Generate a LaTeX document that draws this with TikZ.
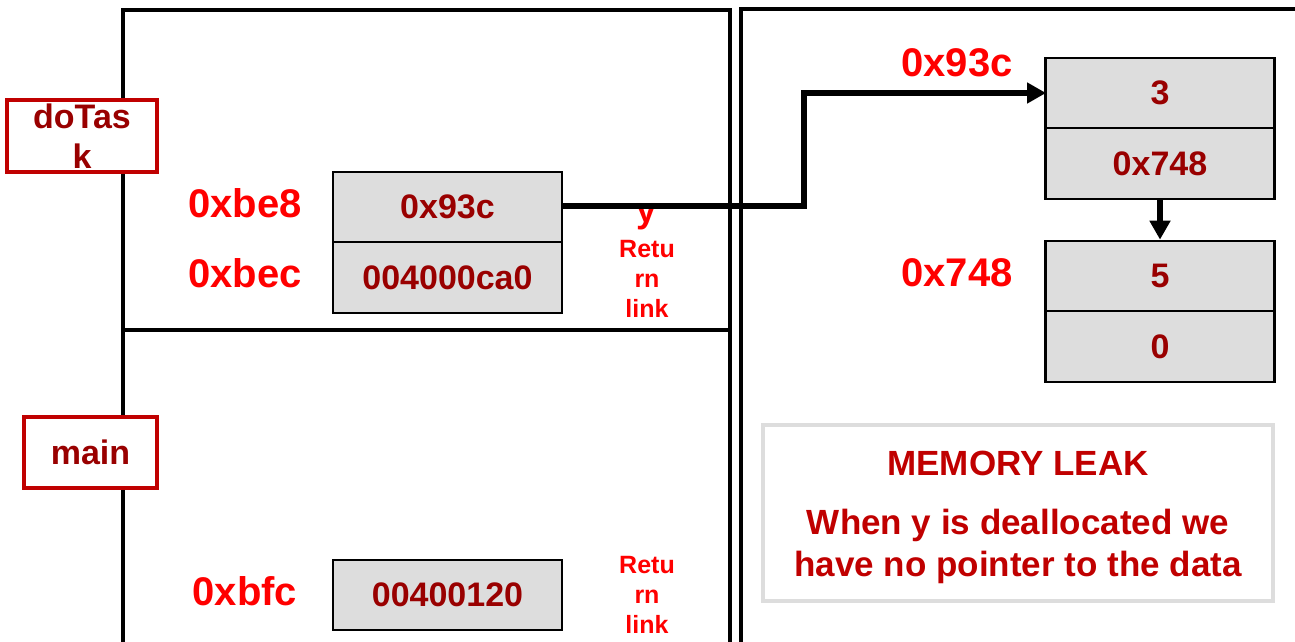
\documentclass[tikz,border=0pt]{standalone}
\usepackage{fontspec}
\setmainfont{Liberation Sans}
\usetikzlibrary{arrows.meta}
\definecolor{addrred}{HTML}{FF0000}
\definecolor{valred}{HTML}{990000}
\definecolor{boxred}{HTML}{C00000}
\definecolor{cellgray}{HTML}{DDDDDD}
\tikzset{
 frame/.style={line width=4pt, draw=black},
 cell/.style={draw=black, fill=cellgray, line width=2.2pt, minimum width=229pt, minimum height=70.5pt, inner sep=0pt, text=valred, font=\fontsize{34}{40}\selectfont\bfseries},
 addr/.style={text=addrred, font=\fontsize{40}{46}\selectfont\bfseries, inner sep=0pt, anchor=base},
 fnbox/.style={draw=boxred, fill=white, line width=3.5pt, inner sep=0pt, text=valred, align=center, font=\fontsize{34}{40}\selectfont\bfseries},
 retlink/.style={text=addrred, align=center, inner sep=0pt, anchor=north, font=\fontsize{25}{30}\selectfont\bfseries},
 ptr/.style={line width=6pt, draw=black, -{Triangle[length=19pt,width=20pt]}},
 leakbox/.style={draw=cellgray, line width=4.5pt, minimum width=510pt, minimum height=176pt, inner sep=0pt},
 leaktext/.style={inner sep=0pt, text=boxred, align=center, font=\fontsize{35}{42}\selectfont\bfseries},
}
\begin{document}
\begin{tikzpicture}[x=1pt,y=-1pt]
\useasboundingbox (0,0) rectangle (1295,642);
% stack frames
\draw[frame] (123,645) -- (123,10) -- (730,10) -- (730,645);
\draw[frame] (123,329.5) -- (730,329.5);
% heap frame
\draw[frame] (741,645) -- (741,9) -- (1300,9);
% function labels
\node[fnbox, minimum width=150pt, minimum height=72pt] (dotask) at (82,136) {doTas\\k};
\node[fnbox, minimum width=133pt, minimum height=71pt] (main) at (90.5,452.5) {main};
% addresses
\node[addr] (abe8) at (245,217) {0xbe8};
\node[addr] (abec) at (245,287) {0xbec};
\node[addr] (abfc) at (245,605) {0xbfc};
\node[addr] (a93c) at (957,76) {0x93c};
\node[addr] (a748) at (957,286) {0x748};
% side labels
\node[addr, font=\fontsize{36}{40}\selectfont\bfseries] (ylab) at (647,222) {y};
\node[retlink] (ret1) at (647,240) {Retu\\rn\\link};
\node[retlink] (ret2) at (647,556) {Retu\\rn\\link};
% pointer arrows (drawn before cells)
\coordinate (bend) at (804,206);
\coordinate (ystart) at (562,206);
\coordinate (h1w) at (1046,93);
\draw[ptr] (ystart) -- (bend) |- (h1w);
% cells
\node[cell] (y) at (447.5,207) {0x93c};
\node[cell] (ra) at (447.5,277.5) {004000ca0};
\node[cell] (mra) at (447.5,595) {00400120};
\node[cell] (h1) at (1160,93) {3};
\node[cell] (h2) at (1160,163.5) {0x748};
\node[cell] (h3) at (1160,276) {5};
\node[cell] (h4) at (1160,346.5) {0};
\draw[ptr] (h2.south) -- (h3.north);
% memory leak note
\node[leakbox] (leak) at (1018,513) {};
\node[leaktext] (leaktxt) at ([yshift=-4pt]leak.center) {MEMORY LEAK\\[17pt]When y is deallocated we\\have no pointer to the data};
\end{tikzpicture}
\end{document}
